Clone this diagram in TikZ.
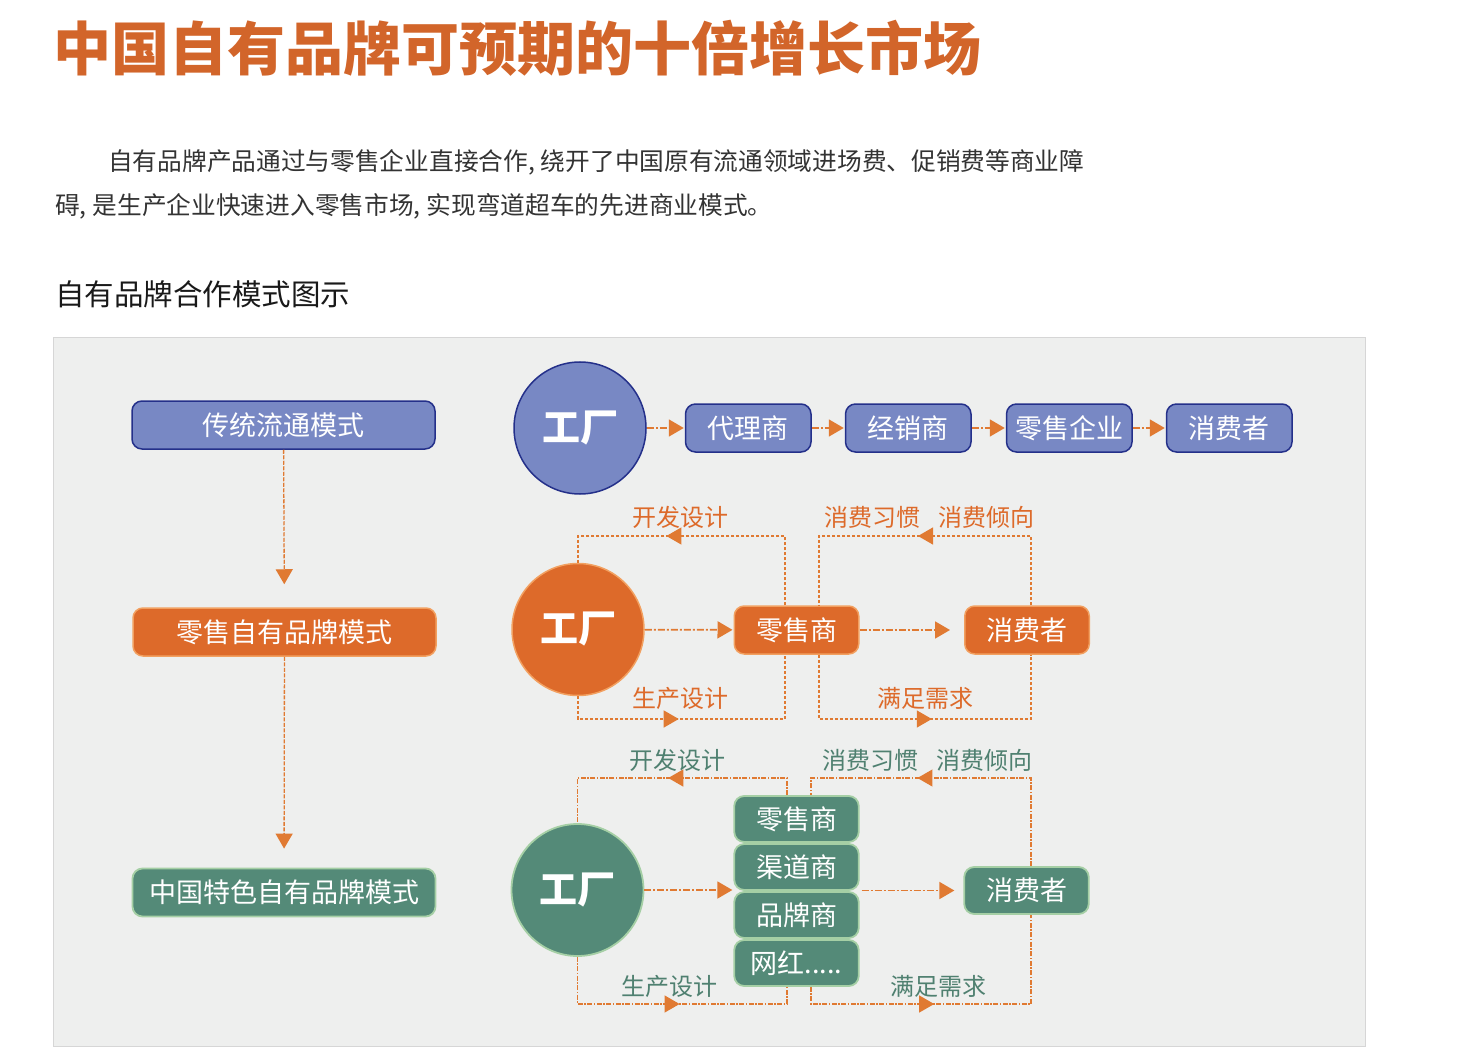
\documentclass[tikz,border=0pt]{standalone}
\usepackage{fontspec}
\setmainfont{Noto Sans CJK SC}
\usetikzlibrary{arrows.meta, positioning, decorations.markings}

\definecolor{titleorange}{HTML}{D2652A}
\definecolor{flowblue}{HTML}{7888C4}
\definecolor{navy}{HTML}{24308A}
\definecolor{floworange}{HTML}{DD6A2A}
\definecolor{lightorange}{HTML}{F2A060}
\definecolor{flowgreen}{HTML}{548A78}
\definecolor{lightgreen}{HTML}{A5CFA5}
\definecolor{labelgreen}{HTML}{4F8070}
\definecolor{dashorange}{HTML}{E07A32}
\definecolor{panelgray}{HTML}{EEEFEE}
\definecolor{panelline}{HTML}{D6D6D6}

\begin{document}
\begin{tikzpicture}[
    x=1pt, y=-1pt,
    box/.style={draw, rounded corners=10pt, minimum height=48pt, minimum width=124.5pt, inner sep=0pt, text=white, font=\fontsize{27}{27}\selectfont},
    bluebox/.style={box, fill=flowblue, draw=navy, line width=1.5pt, minimum width=125.5pt},
    orangebox/.style={box, fill=floworange, draw=lightorange, line width=1.5pt},
    greenbox/.style={box, fill=flowgreen, draw=lightgreen, line width=1.8pt},
    modebox/.style={minimum width=303pt},
    fac/.style={circle, minimum size=132pt, inner sep=0pt, text=white, font=\fontsize{38}{38}\selectfont\bfseries},
    lbl/.style={inner sep=0pt, font=\fontsize{24}{24}\selectfont},
    loopline/.style={dashorange, line width=1.2pt, dash pattern=on 3pt off 2pt},
    dashdot/.style={dashorange, line width=1.8pt, dash pattern=on 7pt off 2pt on 2pt off 2pt},
    conn/.style={dashdot, ->},
    mid/.style={postaction={decorate, decoration={markings, mark=at position #1 with {\arrow{>}}}}},
    >={Triangle[length=15pt, width=17pt]}
]
    \useasboundingbox (0,0) rectangle (1472,1064);

    % heading and text
    \node[anchor=west, inner sep=0pt, text=titleorange, font=\fontsize{58}{58}\selectfont\bfseries] (title) at (53,48) {中国自有品牌可预期的十倍增长市场};
    \node[anchor=west, inner sep=0pt, text=black!80, font=\fontsize{24.7}{24.7}\selectfont] (para1) at (108,162) {自有品牌产品通过与零售企业直接合作,\hspace{6pt}绕开了中国原有流通领域进场费、促销费等商业障};
    \node[anchor=west, inner sep=0pt, text=black!80, font=\fontsize{24.7}{24.7}\selectfont] (para2) at (55,206) {碍,\hspace{6pt}是生产企业快速进入零售市场,\hspace{6pt}实现弯道超车的先进商业模式。};
    \node[anchor=west, inner sep=0pt, text=black!90, font=\fontsize{29.5}{29.5}\selectfont] (sub) at (55,294) {自有品牌合作模式图示};

    \draw[panelline, fill=panelgray] (53,337) rectangle (1365,1046);

    % left column
    \node[bluebox, modebox] (mode1) at (283.5,425) {传统流通模式};
    \node[orangebox, modebox] (mode2) at (284.5,632) {零售自有品牌模式};
    \node[greenbox, modebox] (mode3) at (284,892.5) {中国特色自有品牌模式};
    \draw[dashorange, line width=1.3pt, dash pattern=on 4pt off 1.5pt, ->, shorten >=23pt] (mode1) -- (mode2);
    \draw[dashorange, line width=1.3pt, dash pattern=on 4pt off 1.5pt, ->, shorten >=19pt] (mode2) -- (mode3);

    % traditional chain
    \node[fac, fill=flowblue, draw=navy, line width=1.5pt] (fac1) at (580,428) {工厂};
    \node[bluebox, right=38pt of fac1] (agent) {代理商};
    \node[bluebox, right=33pt of agent] (dealer) {经销商};
    \node[bluebox, right=34pt of dealer] (retailco) {零售企业};
    \node[bluebox, right=33pt of retailco] (cons1) {消费者};
    \draw[conn, shorten >=1pt] (fac1) -- (agent);
    \draw[conn, shorten >=1pt] (agent) -- (dealer);
    \draw[conn, shorten >=1pt] (dealer) -- (retailco);
    \draw[conn, shorten >=1pt] (retailco) -- (cons1);

    % retail own brand
    \coordinate (t2) at (0,536);
    \coordinate (b2) at (0,719);
    \node[fac, fill=floworange, draw=lightorange, line width=1.5pt] (fac2) at (578,629.5) {工厂};
    \node[orangebox] (shop2) at (796.5,630) {零售商};
    \node[orangebox] (cons2) at (1027,630) {消费者};
    \draw[conn, shorten >=1pt] (fac2) -- (shop2);
    \draw[conn, shorten >=14pt] (shop2) -- (cons2);
    \draw[loopline, mid=0.62] ([xshift=-11.5pt]shop2.north) |- (fac2.north |- t2) -- (fac2.north);
    \draw[loopline, mid=0.42] (fac2.south) |- ([xshift=-11.5pt]shop2.south |- b2) -- ([xshift=-11.5pt]shop2.south);
    \draw[loopline, mid=0.52] ([xshift=4pt]cons2.north) |- ([xshift=22.5pt]shop2.north |- t2) -- ([xshift=22.5pt]shop2.north);
    \draw[loopline, mid=0.52] ([xshift=22.5pt]shop2.south) |- ([xshift=4pt]cons2.south |- b2) -- ([xshift=4pt]cons2.south);
    \node[lbl, text=floworange] (dev2) at (680,517) {开发设计};
    \node[lbl, text=floworange] (make2) at (680,698) {生产设计};
    \node[lbl, text=floworange] (habit2) at (929,517) {消费习惯\hspace{18pt}消费倾向};
    \node[lbl, text=floworange] (need2) at (925,698) {满足需求};

    % chinese own brand
    \coordinate (t3) at (0,778);
    \coordinate (b3) at (0,1004);
    \node[fac, fill=flowgreen, draw=lightgreen, line width=1.8pt] (fac3) at (577.5,890) {工厂};
    \node[greenbox, minimum height=46pt] (st1) at (796.5,819) {零售商};
    \node[greenbox, minimum height=46pt] (st2) at (796.5,867) {渠道商};
    \node[greenbox, minimum height=46pt] (st3) at (796.5,915) {品牌商};
    \node[greenbox, minimum height=46pt] (st4) at (796.5,963) {网红.....};
    \node[greenbox, minimum height=47pt] (cons3) at (1026.5,890.5) {消费者};
    \draw[dashdot, ->, shorten >=1pt] (fac3.east) -- (fac3.east -| st2.west);
    \draw[dashdot, ->, shorten >=9pt, shorten <=2pt] (cons3.west -| st2.east) -- (cons3.west);
    \draw[loopline, dash pattern=on 5pt off 1.5pt on 1.5pt off 1.5pt, mid=0.5] ([xshift=-9.5pt]st1.north) |- (fac3.north |- t3) -- (fac3.north);
    \draw[loopline, dash pattern=on 5pt off 1.5pt on 1.5pt off 1.5pt, mid=0.545] (fac3.south) |- ([xshift=-9.5pt]st4.south |- b3) -- ([xshift=-9.5pt]st4.south);
    \draw[loopline, dash pattern=on 5pt off 1.5pt on 1.5pt off 1.5pt, mid=0.62] ([xshift=4.5pt]cons3.north) |- ([xshift=14.5pt]st1.north |- t3) -- ([xshift=14.5pt]st1.north);
    \draw[loopline, dash pattern=on 5pt off 1.5pt on 1.5pt off 1.5pt, mid=0.43] ([xshift=14.5pt]st4.south) |- ([xshift=4.5pt]cons3.south |- b3) -- ([xshift=4.5pt]cons3.south);
    \node[lbl, text=labelgreen] (dev3) at (677,760) {开发设计};
    \node[lbl, text=labelgreen] (make3) at (669,986) {生产设计};
    \node[lbl, text=labelgreen] (habit3) at (927,760) {消费习惯\hspace{18pt}消费倾向};
    \node[lbl, text=labelgreen] (need3) at (938,986) {满足需求};
\end{tikzpicture}
\end{document}
